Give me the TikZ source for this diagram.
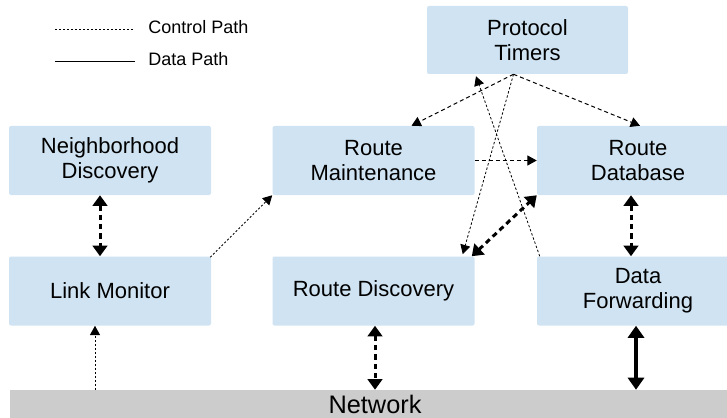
\documentclass[tikz,border=0pt]{standalone}
\usepackage{fontspec}
\setmainfont{Liberation Sans}
\usetikzlibrary{arrows.meta,calc}
\definecolor{boxblue}{RGB}{207,227,242}
\definecolor{netgray}{RGB}{204,204,204}
\tikzset{
  block/.style={fill=boxblue, rounded corners=1.5pt, minimum width=151.5pt, minimum height=51.75pt,
    inner sep=0pt, align=center, font=\fontsize{16.5}{18.75}\selectfont},
  ctrl/.style={line width=0.75pt, dash pattern=on 3pt off 2.25pt, -{Triangle[length=7pt,width=7.5pt]}},
  ctrlfine/.style={line width=0.6pt, dash pattern=on 1.8pt off 1.5pt, -{Triangle[length=7pt,width=7.5pt]}},
  dotpath/.style={line width=0.75pt, dash pattern=on 1.5pt off 1.5pt},
  bidash/.style={line width=2.25pt, dash pattern=on 4pt off 3pt, {Triangle[length=8pt,width=11pt]}-{Triangle[length=8pt,width=11pt]}},
  bisolid/.style={line width=3pt, {Triangle[length=9pt,width=12pt]}-{Triangle[length=9pt,width=12pt]}},
  legendtxt/.style={anchor=west, inner sep=0pt, font=\fontsize{13.5}{16}\selectfont}
}
\begin{document}
\begin{tikzpicture}[x=0.75pt, y=-0.75pt]
\useasboundingbox (0,0) rectangle (727,417);
\begin{scope}
\clip (0,0) rectangle (727,417);

% legend
\coordinate (cl1) at (55,30);
\coordinate (cl2) at (135,30);
\coordinate (dl1) at (55,62);
\coordinate (dl2) at (135,62);
\draw[dotpath] (cl1) -- (cl2);
\draw[line width=0.75pt] (dl1) -- (dl2);
\node[legendtxt] (ctrltxt) at (148,27) {Control Path};
\node[legendtxt] (datatxt) at (148,59) {Data Path};

% network bar
\node[fill=netgray, minimum width=547.5pt, minimum height=21pt, inner sep=0pt,
  font=\fontsize{19}{22}\selectfont] (NET) at (375,404) {Network};

% blocks
\node[block, minimum width=150.75pt, minimum height=51pt] (PT) at (527.5,40) {Protocol\\Timers};
\node[block] (ND) at (110,160.5) {Neighborhood\\Discovery};
\node[block] (RM) at (373.5,160.5) {Route\\Maintenance};
\node[block] (RDB) at (638,160.5) {Route\\Database};
\node[block] (LM) at (110,291) {Link Monitor};
\node[block] (RD) at (373.5,291) {Route Discovery};
\node[block] (DF) at (638,291) {Data\\Forwarding};

% control paths from the timers
\coordinate (ptsrc) at ($(PT.south)+(-14,0)$);
\draw[ctrl] (ptsrc) -- ($(RM.north)+(38,0)$);
\draw[ctrl] (ptsrc) -- ($(RDB.north)+(2,0)$);
\draw[ctrlfine] (ptsrc) -- ($(RD.north east)+(-12,-2)$);
\draw[ctrlfine] ($(DF.north west)+(3,0)$) -- ($(PT.south)+(-51.5,2)$);
\draw[ctrl] (RM.east) -- (RDB.west);

% other control paths
\draw[dotpath, -{Triangle[length=7pt,width=7.5pt]}] ($(LM.north east)+(-1,1)$) -- (RM.south west);
\coordinate (netlm) at ($(NET.north)+(-280,0)$);
\draw[dotpath, -{Triangle[length=7pt,width=7.5pt]}] (netlm) -- (netlm |- LM.south);

% two-way links
\coordinate (rdlow) at ($(RD.south)+(1.5,0)$);
\coordinate (dflow) at ($(DF.south)+(-2,0)$);
\draw[bidash] ($(ND.south)+(-10,0)$) -- ($(LM.north)+(-10,0)$);
\draw[bidash] ($(RDB.south)+(-7,0)$) -- ($(DF.north)+(-7,0)$);
\draw[bidash] ($(RD.north east)+(-3,0)$) -- (RDB.south west);
\draw[bidash] (rdlow) -- (rdlow |- NET.north);
\draw[bisolid] (dflow) -- (dflow |- NET.north);
\end{scope}
\end{tikzpicture}
\end{document}
